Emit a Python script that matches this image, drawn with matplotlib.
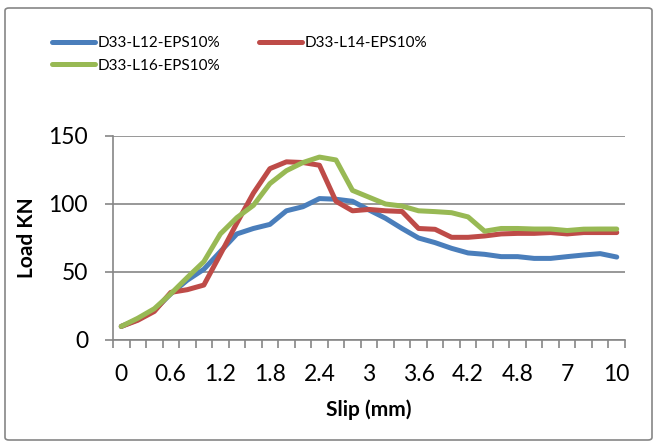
import matplotlib
matplotlib.use("Agg")
import matplotlib.pyplot as plt
from matplotlib.patches import FancyBboxPatch
import numpy as np

plt.rcParams['font.family'] = ['Lato', 'DejaVu Sans']

# slip categories (mm); Excel category axis, one label every 3rd category
slip = ['0', '0.2', '0.4', '0.6', '0.8', '1', '1.2', '1.4', '1.6', '1.8', '2',
        '2.2', '2.4', '2.6', '2.8', '3', '3.2', '3.4', '3.6', '3.8', '4',
        '4.2', '4.4', '4.6', '4.8', '5', '6', '7', '8', '9', '10']

load_l12 = [10, 15, 22, 34, 44, 52, 65, 78, 82, 85, 95, 98, 104, 103.5, 102,
            95.6, 89.5, 82, 75, 71.6, 67.4, 64, 63, 61.3, 61.3, 60, 60, 61.3,
            62.5, 63.5, 61]
load_l14 = [10, 14.5, 21, 35, 37, 40.4, 63, 86, 108, 126, 131, 130.5, 128.5,
            102, 95, 96, 95, 94.5, 82, 81.4, 75.5, 75.5, 76.5, 78, 78.4, 78.4,
            79, 78, 79, 79, 79]
load_l16 = [10, 16, 23, 34, 46, 57.6, 78, 90, 99, 115, 124.5, 130.5, 134.5,
            132.4, 110, 105, 100, 98.5, 95, 94.4, 93.6, 90.5, 80, 82, 82, 81.6,
            81.6, 80.5, 81.5, 81.6, 81.6]

names = ['D33-L12-EPS10%', 'D33-L14-EPS10%', 'D33-L16-EPS10%']
colors = ['#4A7EBB', '#BE4B48', '#98B954']

fig = plt.figure(figsize=(6.58, 4.44), dpi=100)
ax = fig.add_axes([113 / 658, 1 - 340 / 444, 512 / 658, 204 / 444])

# chart border
fig.patches.append(FancyBboxPatch((5 / 658, 4 / 444), 647 / 658, 432 / 444,
                                  boxstyle='round,pad=0,rounding_size=0.006',
                                  transform=fig.transFigure, fill=False,
                                  edgecolor='#868686', linewidth=1.2))

x = np.arange(len(slip))
lines = []
for vals, name, c in zip([load_l12, load_l14, load_l16], names, colors):
    ln, = ax.plot(x, vals, color=c, lw=3.6, solid_capstyle='round',
                  solid_joinstyle='round', label=name)
    lines.append(ln)

ax.set_xlim(-0.5, len(slip) - 0.5)
ax.set_ylim(0, 150)
ax.set_yticks([0, 50, 100, 150])
ax.yaxis.grid(True, color='#868686', lw=1.2)
ax.set_axisbelow(True)

ax.set_xticks(x[::3])
ax.set_xticklabels(slip[::3])
ax.set_xticks(np.arange(-0.5, len(slip)), minor=True)
ax.tick_params(axis='x', which='major', length=0, pad=17, labelsize=16.5)
ax.tick_params(axis='x', which='minor', length=6, width=1.2, color='#868686',
               direction='out')
ax.tick_params(axis='y', length=6, width=1.2, color='#868686', labelsize=16.5,
               pad=12)

for s in ['top', 'right']:
    ax.spines[s].set_visible(False)
for s in ['left', 'bottom']:
    ax.spines[s].set_color('#868686')
    ax.spines[s].set_linewidth(1.2)

ax.set_xlabel('Slip (mm)', fontsize=15, fontweight='bold', labelpad=11)
ax.set_ylabel('Load KN', fontsize=15, fontweight='bold', labelpad=8)

fig.legend([lines[0], lines[2], lines[1]],
           [names[0], names[2], names[1]],
           loc='upper left', bbox_to_anchor=(46 / 658, 1 - 30 / 444), ncol=2,
           frameon=False, fontsize=11, handlelength=2.8, handletextpad=0.2,
           columnspacing=2.5, labelspacing=0.55, borderaxespad=0)

fig.savefig('out.png', dpi=100)
